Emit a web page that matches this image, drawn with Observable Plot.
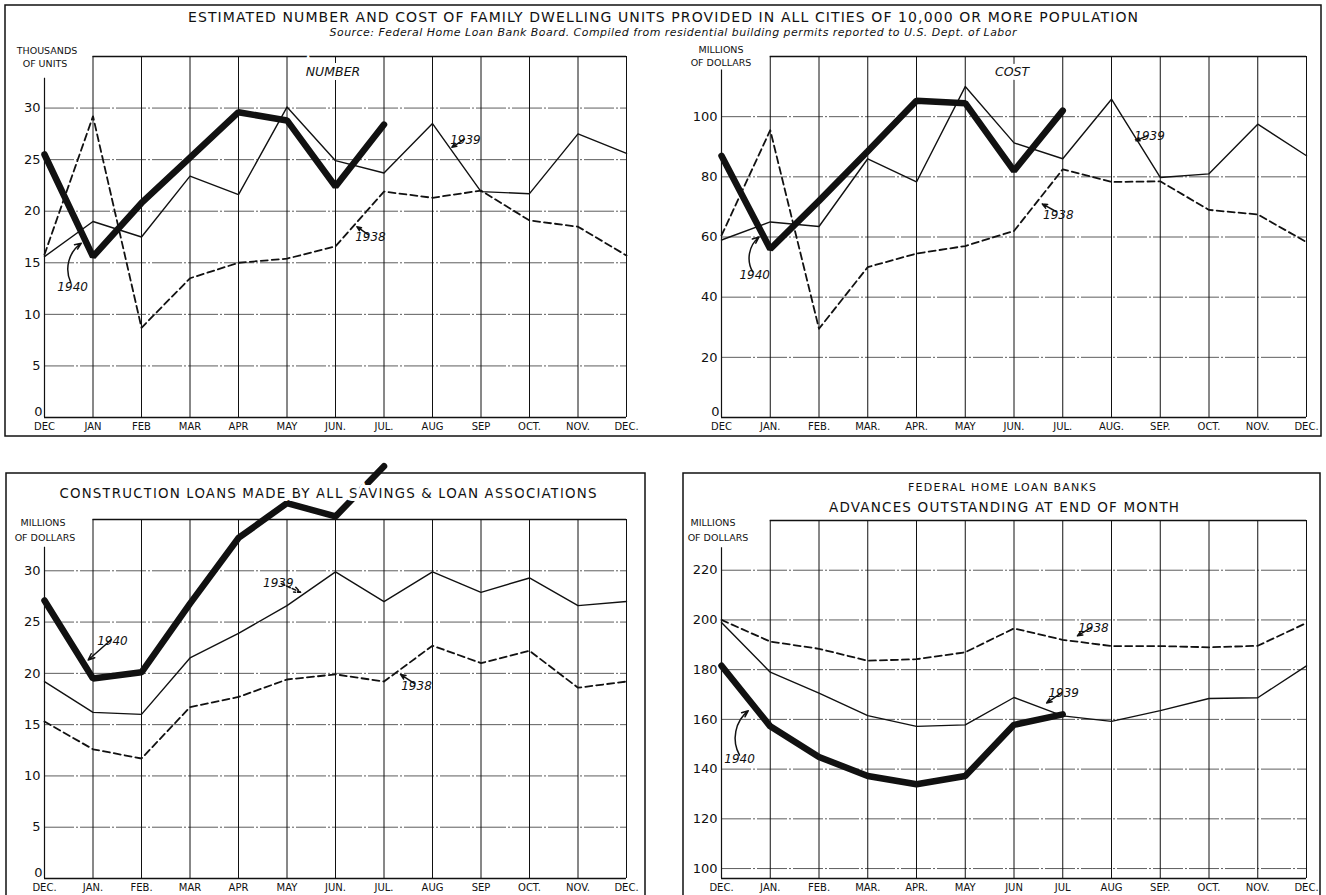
<!DOCTYPE html>
<html>
<head>
<meta charset="utf-8">
<script src="https://cdn.jsdelivr.net/npm/d3@7"></script>
<script src="https://cdn.jsdelivr.net/npm/@observablehq/plot@0.6"></script>
<style>
  html, body { margin: 0; padding: 0; background: #fff; }
  #wrap { position: relative; width: 1326px; height: 895px; overflow: hidden; background: #fff; }
  .panel { position: absolute; }
</style>
</head>
<body>
<div id="wrap"></div>
<script>
// ---------------- DATA ----------------
const monthIndex = [0,1,2,3,4,5,6,7,8,9,10,11,12];
const numberLabels   = ["DEC","JAN","FEB","MAR","APR","MAY","JUN.","JUL.","AUG","SEP","OCT.","NOV.","DEC."];
const costLabels     = ["DEC","JAN.","FEB.","MAR.","APR.","MAY","JUN.","JUL.","AUG.","SEP.","OCT.","NOV.","DEC."];
const loansLabels    = ["DEC.","JAN.","FEB.","MAR","APR","MAY","JUN.","JUL.","AUG","SEP","OCT.","NOV.","DEC."];
const advancesLabels = ["DEC.","JAN.","FEB.","MAR.","APR.","MAY","JUN","JUL","AUG","SEP.","OCT.","NOV.","DEC."];

const numberTicks   = [0,5,10,15,20,25,30];
const costTicks     = [0,20,40,60,80,100];
const loansTicks    = [0,5,10,15,20,25,30];
const advancesTicks = [100,120,140,160,180,200,220];

// Thousands of units
const number1938 = [15.8, 29.2, 8.7, 13.5, 15.0, 15.4, 16.6, 21.9, 21.3, 22.0, 19.1, 18.5, 15.7];
const number1939 = [15.6, 19.0, 17.5, 23.4, 21.6, 30.1, 24.9, 23.7, 28.5, 21.9, 21.7, 27.5, 25.6];
const number1940 = [25.5, 15.6, 20.8, 25.2, 29.6, 28.8, 22.4, 28.4];

// Millions of dollars
const cost1938 = [60.5, 95.5, 29.5, 50.0, 54.5, 57.0, 62.0, 82.5, 78.3, 78.5, 69.0, 67.5, 58.3];
const cost1939 = [59.0, 65.0, 63.5, 86.0, 78.3, 110.0, 91.3, 86.0, 105.8, 79.8, 81.0, 97.5, 87.0];
const cost1940 = [87.0, 56.0, 72.0, 88.5, 105.3, 104.5, 82.0, 102.0];

// Construction loans, millions of dollars
const loans1938 = [15.3, 12.6, 11.7, 16.7, 17.7, 19.4, 19.9, 19.2, 22.7, 21.0, 22.2, 18.6, 19.2];
const loans1939 = [19.2, 16.2, 16.0, 21.5, 23.9, 26.6, 29.9, 27.0, 29.9, 27.9, 29.3, 26.6, 27.0];
const loans1940 = [27.1, 19.5, 20.1, 26.8, 33.2, 36.6, 35.3, 40.2];

// FHLB advances outstanding, millions of dollars
const advances1938 = [200.0, 191.3, 188.4, 183.6, 184.2, 187.0, 196.6, 192.0, 189.5, 189.5, 189.0, 189.6, 198.8];
const advances1939 = [199.0, 179.0, 170.6, 161.5, 157.2, 157.8, 168.8, 161.4, 159.2, 163.5, 168.4, 168.7, 181.5];
const advances1940 = [181.6, 157.2, 144.9, 137.2, 133.9, 137.2, 157.8, 162.0];

// Annotations (data coordinates)
const numberNotes   = [{x:8.68, y:26.9, text:"1939"}, {x:6.72, y:17.5, text:"1938"}, {x:0.58, y:12.6, text:"1940"}];
const numberArrows  = [{x1:8.66, y1:27.0, x2:8.40, y2:26.2, bend:0}, {x1:6.68, y1:17.7, x2:6.44, y2:18.5, bend:0}, {x1:0.54, y1:13.1, x2:0.76, y2:16.9, bend:1}];
const costNotes     = [{x:8.78, y:93.4, text:"1939"}, {x:6.91, y:67.2, text:"1938"}, {x:0.68, y:47.2, text:"1940"}];
const costArrows    = [{x1:8.74, y1:93.7, x2:8.50, y2:92.0, bend:0}, {x1:6.87, y1:68.4, x2:6.58, y2:71.0, bend:0}, {x1:0.64, y1:48.4, x2:0.77, y2:60.0, bend:1}];
const loansNotes    = [{x:1.40, y:23.1, text:"1940", anchor:"start"}, {x:4.82, y:28.8, text:"1939", anchor:"end"}, {x:7.67, y:18.8, text:"1938", anchor:"start"}];
const loansArrows   = [{x1:1.38, y1:23.3, x2:0.90, y2:21.3, bend:0, dash:false}, {x1:4.88, y1:28.75, x2:5.28, y2:27.9, bend:0, dash:true}, {x1:7.63, y1:19.0, x2:7.34, y2:19.9, bend:0, dash:false}];
const advancesNotes = [{x:7.63, y:196.6, text:"1938"}, {x:7.02, y:170.4, text:"1939"}, {x:0.37, y:143.9, text:"1940"}];
const advancesArrows= [{x1:7.59, y1:197.0, x2:7.30, y2:193.6, bend:0}, {x1:6.95, y1:170.4, x2:6.67, y2:166.6, bend:0}, {x1:0.37, y1:145.6, x2:0.55, y2:163.5, bend:1}];

// ---------------- DRAWING ----------------
const FONT = "'DejaVu Sans', 'Liberation Sans', sans-serif";
const INK = "#111";
const rows = (vals) => vals.map((v, i) => ({m: monthIndex[i], v}));

function makePanel(cfg) {
  const [lo, hi] = cfg.yDomain;
  const marks = [
    Plot.ruleY(cfg.ticks.filter(t => t > lo), {y: d => d, x1: 0, x2: 12, stroke: "#333", strokeWidth: 0.8, strokeDasharray: "30,2,2,2"}),
    Plot.ruleX(monthIndex.filter(m => m > 0), {x: d => d, y1: lo, y2: hi, stroke: INK, strokeWidth: 1}),
    Plot.ruleX([0], {x: d => d, y1: lo, y2: cfg.axisTop, stroke: INK, strokeWidth: 1.2}),
    Plot.ruleY([hi], {y: d => d, x1: 1, x2: 12, stroke: INK, strokeWidth: 1.3}),
    Plot.ruleY([lo], {y: d => d, x1: 0, x2: 12, stroke: INK, strokeWidth: 1.6}),
    Plot.line(rows(cfg.s38), {x: "m", y: "v", stroke: INK, strokeWidth: 1.8, strokeDasharray: "7,4"}),
    Plot.line(rows(cfg.s39), {x: "m", y: "v", stroke: INK, strokeWidth: 1.4}),
    Plot.line(rows(cfg.s40), {x: "m", y: "v", stroke: INK, strokeWidth: 6.5, strokeLinejoin: "miter"}),
    Plot.text(monthIndex, {x: d => d, y: lo, text: d => cfg.labels[d], dy: 9, fontSize: 10, fill: INK}),
    Plot.text(cfg.ticks.filter(t => t !== 0), {x: 0, y: d => d, text: d => String(d), textAnchor: "end", dx: -4, fontSize: 13, fill: INK}),
    Plot.text(cfg.ticks.filter(t => t === 0), {x: 0, y: d => d, text: d => String(d), textAnchor: "end", dx: -2, dy: -6, fontSize: 13, fill: INK}),
    Plot.text(cfg.notes, {x: "x", y: "y", text: "text", textAnchor: d => d.anchor || "start", fontStyle: "italic", fontSize: 12, fill: INK}),
    Plot.arrow(cfg.arrows, {filter: d => !d.bend && !d.dash, x1: "x1", y1: "y1", x2: "x2", y2: "y2", stroke: INK, strokeWidth: 1.5, headLength: 7, headAngle: 45}),
    Plot.arrow(cfg.arrows, {filter: d => !d.bend && d.dash, x1: "x1", y1: "y1", x2: "x2", y2: "y2", stroke: INK, strokeWidth: 1.5, headLength: 7, headAngle: 45, strokeDasharray: "4,2"}),
    Plot.arrow(cfg.arrows, {filter: d => d.bend, x1: "x1", y1: "y1", x2: "x2", y2: "y2", bend: 40, stroke: INK, strokeWidth: 1.5, headLength: 7, headAngle: 45})
  ];
  const plot = Plot.plot({
    width: cfg.width, height: cfg.height,
    marginLeft: cfg.ml, marginRight: cfg.mr, marginTop: cfg.mt, marginBottom: cfg.mb,
    x: {domain: [0, 12], axis: null},
    y: {domain: cfg.yDomain, axis: null},
    style: {background: "none", overflow: "visible", fontFamily: FONT, color: INK},
    marks
  });
  const div = document.createElement("div");
  div.className = "panel";
  div.style.left = cfg.left + "px";
  div.style.top = cfg.top + "px";
  div.appendChild(plot);
  document.getElementById("wrap").appendChild(div);
}

makePanel({left: 0, top: 40, width: 663, height: 400, ml: 44, mr: 37, mt: 16, mb: 23,
  yDomain: [0, 35], ticks: numberTicks, labels: numberLabels, axisTop: 32.9,
  s38: number1938, s39: number1939, s40: number1940, notes: numberNotes, arrows: numberArrows});
makePanel({left: 663, top: 40, width: 663, height: 400, ml: 58, mr: 20, mt: 16, mb: 23,
  yDomain: [0, 120], ticks: costTicks, labels: costLabels, axisTop: 115.5,
  s38: cost1938, s39: cost1939, s40: cost1940, notes: costNotes, arrows: costArrows});
makePanel({left: 0, top: 450, width: 663, height: 445, ml: 44, mr: 37, mt: 69, mb: 17,
  yDomain: [0, 35], ticks: loansTicks, labels: loansLabels, axisTop: 32.3,
  s38: loans1938, s39: loans1939, s40: loans1940, notes: loansNotes, arrows: loansArrows});
makePanel({left: 663, top: 450, width: 663, height: 445, ml: 58, mr: 20, mt: 70, mb: 17,
  yDomain: [96, 240], ticks: advancesTicks, labels: advancesLabels, axisTop: 229,
  s38: advances1938, s39: advances1939, s40: advances1940, notes: advancesNotes, arrows: advancesArrows});

// Overlay: frames and titles
const svg = d3.create("svg")
  .attr("width", 1326).attr("height", 895)
  .style("position", "absolute").style("left", "0px").style("top", "0px")
  .style("pointer-events", "none")
  .style("font-family", FONT);

svg.append("rect").attr("x", 5).attr("y", 5).attr("width", 1316).attr("height", 431)
  .attr("fill", "none").attr("stroke", INK).attr("stroke-width", 1.5);
svg.append("path").attr("d", "M6,900V473H645V900").attr("fill", "none").attr("stroke", INK).attr("stroke-width", 1.5);
svg.append("path").attr("d", "M683,900V473H1320V900").attr("fill", "none").attr("stroke", INK).attr("stroke-width", 1.5);

function label(x, y, text, opts = {}) {
  const t = svg.append("text")
    .attr("x", x).attr("y", y)
    .attr("text-anchor", opts.anchor || "middle")
    .attr("font-size", opts.size || 10)
    .attr("font-style", opts.italic ? "italic" : "normal")
    .attr("fill", INK)
    .attr("stroke", "#fff").attr("stroke-width", opts.halo || 3)
    .attr("paint-order", "stroke")
    .text(text);
  if (opts.len) t.attr("textLength", opts.len).attr("lengthAdjust", "spacing");
  return t;
}

label(663, 22, "ESTIMATED NUMBER AND COST OF FAMILY DWELLING UNITS PROVIDED IN ALL CITIES OF 10,000 OR MORE POPULATION", {size: 14, len: 950});
label(673, 36, "Source: Federal Home Loan Bank Board. Compiled from residential building permits reported to U.S. Dept. of Labor", {size: 11, italic: true, len: 687});
label(333, 76, "NUMBER", {size: 12.5, italic: true, halo: 8});
label(1012, 76, "COST", {size: 12.5, italic: true, halo: 8});

label(47, 54, "THOUSANDS", {size: 9.5});
label(45, 67, "OF UNITS", {size: 9.5});
label(721, 53, "MILLIONS", {size: 9.5});
label(721, 66, "OF DOLLARS", {size: 9.5});
label(43, 526, "MILLIONS", {size: 9.5});
label(45, 541, "OF DOLLARS", {size: 9.5});
label(713, 526, "MILLIONS", {size: 9.5});
label(718, 541, "OF DOLLARS", {size: 9.5});

label(328, 498, "CONSTRUCTION LOANS MADE BY ALL SAVINGS & LOAN ASSOCIATIONS", {size: 13.5, len: 537, halo: 6});
label(1002, 491, "FEDERAL HOME LOAN BANKS", {size: 11, len: 188});
label(1004, 512, "ADVANCES OUTSTANDING AT END OF MONTH", {size: 13.5, len: 350});

document.getElementById("wrap").appendChild(svg.node());
</script>
</body>
</html>
